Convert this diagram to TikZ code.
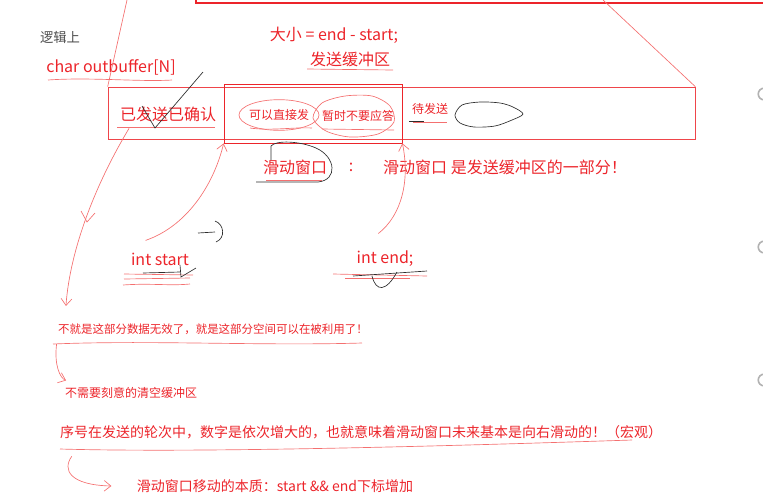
\documentclass[tikz,border=0pt]{standalone}
\usepackage{fontspec}
\setmainfont{Noto Sans CJK SC}
\usetikzlibrary{arrows.meta,fit}
\definecolor{ink}{RGB}{236,36,42}
\definecolor{inklight}{RGB}{244,112,112}
\definecolor{pencil}{RGB}{45,45,45}

\begin{document}
\begin{tikzpicture}[
  x=0.75pt, y=-0.75pt,
  lbl/.style={text=ink, font=\fontsize{12}{14}\selectfont, inner sep=1pt},
  small/.style={text=ink, font=\fontsize{9}{11}\selectfont, inner sep=1pt},
  mid/.style={text=ink, font=\fontsize{10.5}{12}\selectfont, inner sep=1pt},
  hand/.style={inklight, line width=0.5pt},
  pen/.style={pencil, line width=0.5pt},
  arrow/.style={hand, -{Straight Barb[length=5pt,width=8pt]}},
]
\useasboundingbox (0,0) rectangle (763,497);

% header
\node[text=pencil!85, font=\fontsize{10}{12}\selectfont] (logic) at (60,37) {逻辑上};
\node[lbl] (size) at (334,35) {大小 = end - start;};
\node[lbl] (sendbuf) at (350,59) {发送缓冲区};
\node[lbl] (outbuf) at (111,67) {char outbuffer[N]};
\draw[ink, line width=2.2pt] (196,-3) -- (196,3) -- (766,3);

% buffer and window
\node[fit={(108,87) (695,139)}, inner sep=0pt, draw=ink!85, line width=0.5pt] (buffer) {};
\node[fit={(224,84) (402,143)}, inner sep=0pt, draw=ink, line width=0.6pt] (window) {};
\draw[hand] (127,0) -- (buffer.north west);
\draw[hand] (603,0) -- (buffer.north east);

\node[lbl] (acked) at (168,114) {已发送已确认};
\node[small] (direct) at (279,115) {可以直接发};
\node[small] (noack) at (358,116) {暂时不要应答};
\node[small] (pending) at (430,109) {待发送};

\draw[hand] (direct) ellipse [x radius=30pt, y radius=11.5pt];
\draw[hand] plot[smooth cycle] coordinates {(313,118) (322,103) (345,96) (372,96)
  (390,106) (394,122) (378,134) (350,137) (326,131)};
\draw[pen] plot[smooth cycle] coordinates {(455,115) (462,105) (480,102) (500,103)
  (513,107) (523,114) (512,120) (495,126) (474,127) (460,123)};

% underlines
\draw[hand] (307,69) -- (393,70);
\draw[hand] (48,80) .. controls (90,77) and (140,82) .. (172,80);
\draw[hand] (117,127) -- (215,127);
\draw[hand] (250,128) .. controls (270,131) and (295,127) .. (312,128);
\draw[hand] (322,129) -- (394,130);
\draw[hand] (413,122) -- (447,122);
\draw[pen] (409,121) -- (424,121);
\draw[pen] (203,72) -- (155,128) -- (142,106);

% sliding window
\node[lbl] (win) at (295,167) {滑动窗口};
\node[lbl] (colon) at (351,167) {:};
\node[lbl] (def) at (505,167) {滑动窗口 是发送缓冲区的一部分！};
\draw[hand] (266,180) -- (322,180);
\draw[pen] (256,182) -- (318,182) .. controls (338,180) and (336,157) .. (316,148)
  .. controls (300,141) and (276,140) .. (271,146) -- (271,160);

% start / end
\node[lbl] (start) at (160,259) {int start};
\node[lbl] (endv) at (385,259) {int end;};
\draw[hand] (124,274) -- (193,275);
\draw[hand] (124,279) -- (190,278);
\draw[hand] (123,285) .. controls (150,283) and (170,286) .. (190,284);
\draw[pen] (143,273) -- (180,272);
\draw[pen] (180,265) -- (181,277) -- (196,268);
\draw[pen] (198,233) -- (215,232);
\draw[pen] (215,221) .. controls (224,224) and (226,238) .. (216,242);
\draw[hand] (333,274) -- (427,276);
\draw[hand] (345,278) -- (410,278);
\draw[pen] (353,276) -- (427,271);
\draw[pen] (372,276) .. controls (376,292) and (386,292) .. (397,272);

% notes
\node[small, font=\fontsize{8.6}{10}\selectfont] (reuse) at (213,329)
  {不就是这部分数据无效了，就是这部分空间可以在被利用了！};
\node[small] (noclear) at (131,393) {不需要刻意的清空缓冲区};
\node[mid] (seq) at (361,432)
  {序号在发送的轮次中，数字是依次增大的，也就意味着滑动窗口未来基本是向右滑动的！（宏观）};
\node[mid] (essence) at (275,486) {滑动窗口移动的本质：start \&\& end下标增加};
\draw[hand] (53,344) .. controls (150,340) and (260,346) .. (362,343);
\draw[hand] (60,449) .. controls (200,453) and (450,446) .. (632,440);

% arrows
\draw[arrow] ([xshift=8pt,yshift=-4pt]acked.south west)
  .. controls (95,185) and (70,250) .. ([xshift=7pt,yshift=12pt]reuse.north west);
\draw[hand] (81,211) -- (87,222) -- (95,213);
\draw[arrow] ([xshift=12pt,yshift=8pt]start.north west)
  .. controls (190,225) and (215,180) .. (window.south west);
\draw[arrow] ([xshift=-5pt,yshift=12pt]endv.north)
  .. controls (402,215) and (410,180) .. (window.south east);
\draw[arrow] ([yshift=-6pt]reuse.south west) .. controls (54,365) and (60,378)
  .. ([xshift=2pt,yshift=4pt]noclear.north west);
\draw[arrow] ([xshift=10pt,yshift=-12pt]seq.south west) .. controls (62,470) and (70,485)
  .. ([xshift=-18pt]essence.west);

% page edge marks
\foreach \yy in {94,247,380}
  \draw[gray!60, line width=1.2pt] (765,\yy-6) .. controls (756,\yy-6) and (756,\yy+6) .. (765,\yy+6);
\end{tikzpicture}
\end{document}
